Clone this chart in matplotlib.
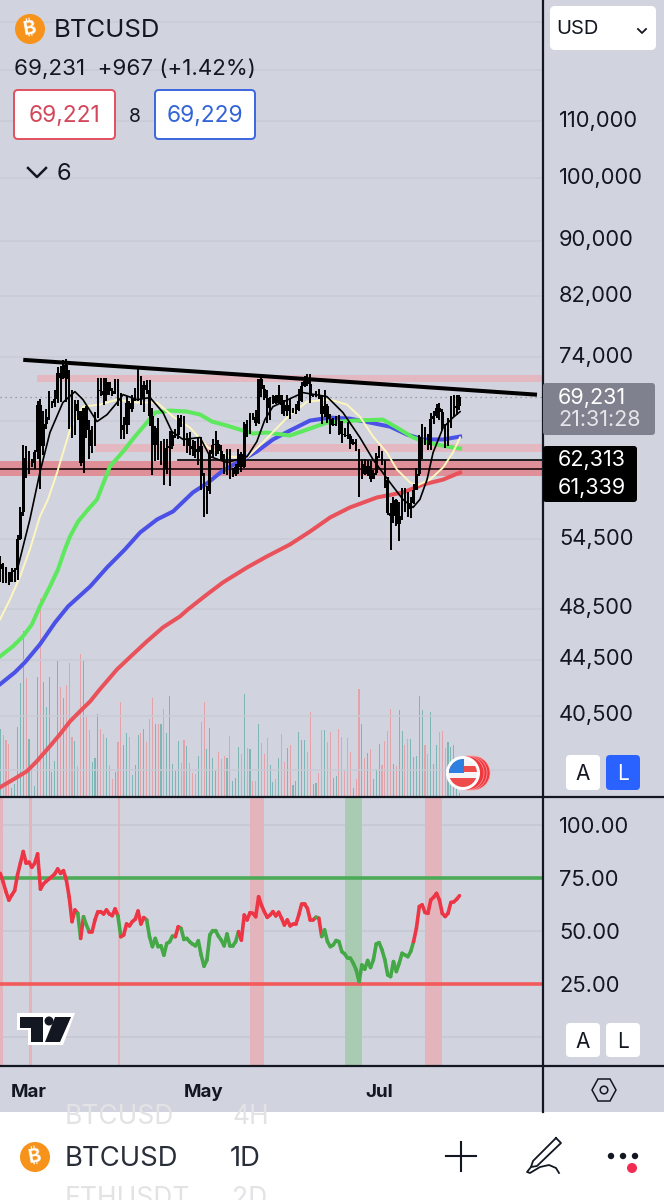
import numpy as np
import matplotlib
matplotlib.use("Agg")
import matplotlib.pyplot as plt
from matplotlib.patches import Rectangle, Circle, Polygon, FancyBboxPatch
from matplotlib.ticker import NullLocator
from matplotlib.transforms import ScaledTranslation

plt.rcParams['font.family'] = ['Inter', 'DejaVu Sans']

# daily bars, day 0 = 1 Mar, first bar is day -10
first_day = -10
close = [52300, 51850, 51300, 50750, 51570, 51730, 54500, 57050, 62500, 61200,
         62400, 62000, 63100, 68300, 63800, 66100, 66900, 68300, 68500, 69000, 72100, 71500, 73100, 71400, 69500, 65300, 68400, 67600, 62000, 67900, 65500, 63800, 64100, 67200, 70000, 69900, 69400, 71000, 69900, 69600, 71300,
         69700, 65500, 66000, 68500, 67800, 69000, 69400, 71600, 69100, 70600, 70000, 67100, 63900, 65700, 63400, 63800, 61300, 63500, 63800, 64900, 64900, 66800, 66400, 64300, 64500, 63800, 63400, 63100, 63800, 60600,
         58300, 59100, 62900, 63900, 64000, 63200, 62300, 61200, 63000, 60800, 60800, 61500, 62900, 61500, 66200, 65200, 67000, 66900, 66300, 71400, 70100, 69100, 67900, 68500, 69300, 68500, 69400, 68300, 67600, 68300, 67500,
         67700, 67700, 68800, 70500, 71100, 70800, 69300, 69300, 69600, 69500, 67300, 68200, 66700, 66000, 66200, 66600, 66500, 65100, 64900, 64800, 64000, 64200, 63200, 60300, 61800, 60800, 61600, 60300, 60900, 62700,
         62800, 62000, 60200, 57000, 56700, 58200, 55900, 56700, 58000, 57700, 57300, 57900, 59200, 60800, 64700, 65000, 64100, 63900, 66700, 67100, 68000, 67500, 65900, 65300, 65800, 67900, 68000, 68200, 69231]
high = [52950, 52400, 52000, 51550, 51950, 51950, 54900, 57500, 63900, 63700,
        63200, 62400, 63300, 68800, 69000, 67600, 67800, 69900, 68700, 70000, 72800, 72900, 73650, 73800, 72400, 70000, 68900, 68900, 67600, 68000, 68200, 66600, 65900, 67500, 71500, 71500, 71500, 71500, 70900, 70300, 71300,
        71400, 69600, 66900, 69300, 68700, 69500, 70300, 72700, 71700, 71100, 71200, 71200, 67900, 65900, 66800, 64300, 64500, 64500, 65400, 65400, 65600, 67200, 67200, 67000, 65200, 65300, 64400, 64300, 64700, 64700,
        60900, 59600, 63300, 64500, 65400, 64400, 63900, 62900, 63400, 63400, 61400, 61800, 63400, 63100, 66400, 66600, 67400, 67400, 67700, 71400, 71900, 70600, 70000, 69200, 69500, 69500, 70600, 69500, 68900, 69500, 69000,
        68000, 68400, 70100, 71000, 71700, 71900, 71900, 69500, 69900, 70200, 69500, 70000, 68400, 67300, 66800, 67000, 67200, 66500, 65700, 66400, 65100, 64500, 64500, 63400, 62400, 62400, 62300, 62200, 61200, 63000,
        63800, 63200, 62300, 60500, 57900, 58500, 58300, 58000, 59400, 59400, 59000, 58500, 59800, 61400, 64900, 66100, 65800, 65100, 67400, 67600, 68400, 68500, 67800, 66100, 66800, 69300, 69400, 69400, 69400]
low = [50700, 50600, 50600, 50500, 50900, 50700, 50900, 54450, 56700, 60400,
       60800, 61500, 61300, 62400, 59300, 62800, 65600, 66600, 68000, 68100, 68500, 68600, 71400, 68600, 65600, 64600, 64900, 66600, 61600, 60900, 64600, 62400, 63000, 63800, 66800, 69300, 68300, 68800, 69500, 69300, 69600,
       68200, 64500, 64500, 65100, 66000, 67500, 68800, 68800, 68300, 67500, 69600, 65900, 60700, 62200, 62300, 61700, 59700, 60800, 59600, 63400, 64600, 64500, 65800, 63800, 63000, 62800, 62700, 62500, 61700, 59200,
       56600, 56900, 58800, 62600, 62700, 62900, 62200, 60800, 60700, 60300, 60500, 60600, 60800, 61000, 61400, 64700, 65100, 66600, 65900, 66100, 69200, 68900, 66300, 66600, 68400, 68400, 68400, 67300, 67100, 67100, 66700,
       67400, 67300, 67600, 68600, 70400, 70500, 68500, 69200, 69200, 69000, 66100, 66900, 66300, 65100, 65900, 65900, 64900, 64100, 64700, 64500, 63400, 63900, 63200, 58500, 60300, 60700, 60600, 60000, 60500, 60700,
       62500, 61700, 59400, 56800, 53500, 56000, 55700, 54300, 56300, 57100, 56600, 56500, 57800, 59200, 60600, 62400, 63900, 63300, 63300, 66200, 66800, 66600, 65500, 63500, 63800, 65700, 66900, 67200, 67700]
volume = [67, 61, 56, 52, 8, 12, 69, 113, 165, 118,
          57, 28, 10, 119, 198, 114, 89, 119, 24, 35,
          135, 109, 98, 111, 133, 59, 55, 30, 142, 135,
          79, 66, 34, 38, 82, 67, 62, 58, 31, 17,
          24, 54, 94, 51, 63, 59, 21, 31, 61, 63,
          67, 54, 77, 98, 72, 72, 72, 87, 63, 100,
          32, 25, 55, 33, 56, 50, 33, 23, 22, 40,
          74, 94, 47, 68, 38, 25, 44, 37, 40, 38,
          60, 15, 18, 49, 42, 102, 48, 47, 15, 15,
          72, 53, 42, 58, 31, 14, 17, 38, 62, 34,
          48, 51, 11, 15, 64, 56, 56, 44, 84, 12,
          13, 23, 66, 66, 54, 64, 18, 20, 67, 59,
          25, 58, 44, 8, 17, 107, 72, 38, 43, 47,
          17, 27, 52, 31, 55, 65, 87, 32, 30, 86,
          65, 51, 57, 57, 39, 40, 100, 86, 51, 42,
          84, 32, 51, 64, 65, 48, 54, 49, 51, 8, 3]

# moving averages
red_days = [-10.1, -4.2, -0.7, 2.8, 7.3, 10.8, 14.3, 17.8, 21.3, 24.7, 30.7, 36.2, 41.1, 46.7, 52.6, 55.4, 62, 67.6, 76, 82.9, 90.9, 97.9, 104.9, 111.8, 121.3, 130.3, 137.3, 144.3, 150.2]
red_ma = [35920, 36530, 36910, 37540, 38490, 39270, 40130, 40820, 41500, 42350, 43800, 44910, 45910, 47000, 47870, 48440, 49670, 50690, 51980, 52950, 54020, 55210, 56530, 57490, 58470, 58960, 59750, 60250, 60970]
blue_days = [-10.1, -4.9, -1.4, 3.8, 9.1, 13.6, 21.3, 27.2, 33.4, 38.7, 44.6, 50.2, 57.1, 62.4, 67.2, 72.5, 79.4, 85, 90.9, 97.9, 104.9, 111.8, 118.8, 125.8, 131.7, 137.3, 144.3, 150.2]
blue_ma = [42710, 43580, 44320, 45670, 47390, 48680, 50340, 51980, 53570, 55120, 56340, 57110, 58960, 59950, 61080, 62000, 63160, 64450, 65420, 66530, 66870, 66750, 66310, 65860, 64990, 64450, 64450, 64770]
green_days = [-10.1, -5.6, -2.1, 1, 3.8, 7.3, 10.1, 12.5, 14.3, 17.1, 20.6, 23.7, 28.2, 32.8, 36.9, 41.1, 43.9, 49.1, 55, 59.6, 63.8, 69, 74.6, 78, 82.9, 90.9, 96.9, 103.8, 112.9, 123.3, 128.2, 133.8, 138.7, 145.6, 150.2]
green_ma = [44760, 45520, 46290, 47230, 48680, 50340, 51800, 53570, 54760, 56150, 57300, 58270, 61590, 63160, 64770, 66310, 67430, 67660, 67550, 67210, 66420, 65970, 65420, 65100, 65210, 64880, 65530, 66310, 66530, 66640, 65750, 64670, 64130, 63700, 63480]
yellow_days = [-10.1, -6.6, -3.1, 0.3, 3.8, 6.6, 9.8, 14.3, 18.8, 24.7, 30.7, 37.6, 44.6, 50.2, 56.1, 62.4, 70, 76, 81.5, 89.9, 96.9, 104.9, 110.8, 115.3, 119.9, 124.7, 128.2, 132.8, 135.2, 139.7, 144.3, 147.7, 150.2]
yellow_ma = [47630, 49260, 51200, 53570, 56620, 58270, 60970, 65530, 68110, 68350, 68920, 68580, 68580, 66970, 65750, 63580, 62620, 62510, 64130, 66860, 68690, 68920, 68340, 66970, 64770, 63050, 61280, 59950, 59660, 60250, 61490, 63050, 64670]
black_days = [-3.8, 0.3, 3.8, 7.3, 11.8, 16, 18.8, 23.7, 27.2, 30.7, 32.8, 37.6, 42.2, 46.7, 49.8, 53.7, 59.6, 63.1, 69, 76, 79.4, 82.2, 85, 95.5, 103.8, 109.4, 115.3, 119.9, 125.8, 130.3, 133.8, 136.2, 138.7, 140.8, 144.3, 147.7, 150.2]
black_ma = [52060, 56340, 60970, 65210, 68580, 69850, 68920, 66420, 67200, 68580, 69500, 68920, 69150, 67430, 65310, 64450, 64670, 62620, 62000, 62620, 64230, 66640, 68110, 69730, 69270, 67430, 64670, 62310, 59950, 58270, 57490, 58270, 60250, 63050, 65750, 66860, 67540]

rsi = [77, 73, 68.3, 64.4, 66.8, 68.9, 76.3, 81.8, 87.3, 81.8,
       82.3, 79.9, 81.8, 86.2, 69.6, 72, 73.3, 74.4, 75.5, 76.8,
       79.1, 77, 78.3, 74, 66, 54.3, 59.8, 58.2, 46.4, 56.6,
       52.7, 49.6, 49.6, 55.1, 59, 59, 57.9, 59.8, 57.9, 57.1,
       60.3, 57, 47.2, 48, 53.2, 52.3, 54.3, 55.4, 59.3, 53.2,
       56.2, 55.1, 47.2, 42.5, 46.4, 42.5, 42.9, 38.5, 44, 44.8,
       47.5, 47.2, 51.9, 51.1, 45.9, 46.4, 44.8, 43.7, 42.9, 45.3,
       38.5, 33.3, 36.2, 48, 50.1, 50.1, 47.5, 45.6, 42.9, 48.5,
       42.9, 42.9, 44.8, 49.6, 45.6, 57.4, 55.1, 58.5, 58.2, 56.6,
       66, 62, 59, 56.3, 57.4, 59, 57, 58.7, 55.9, 52.7,
       55.1, 52.3, 53.1, 53.1, 57.4, 62.6, 62.6, 60.6, 55.1, 55.1,
       56.4, 55.9, 47.3, 50.4, 44.9, 42.5, 43.3, 45.4, 44.9, 40.2,
       39.1, 37.1, 37.1, 34.7, 31.6, 26.1, 33.9, 31.9, 36, 32.7,
       36.3, 43.8, 44.4, 41, 36.3, 29.2, 28.4, 35.5, 30.8, 34.7,
       39.4, 38.6, 37.8, 40.2, 44.9, 51.2, 61.4, 62.2, 58.6, 58.2,
       64.5, 65.8, 67.6, 64.5, 58.2, 56.7, 58.2, 63.3, 63.6, 64.8, 66.5]
# bar index ranges where the rsi line is green, red elsewhere
rsi_green = [(27, 28), (29, 31), (41, 42), (51, 61), (63, 83), (110, 111), (112, 144)]

price_ticks = [110000, 100000, 90000, 82000, 74000, 54500, 48500, 44500, 40500]
hidden_grid = [130000, 120000, 66500, 37000]
rsi_ticks = [100, 75, 50, 25]
month_days = [0, 61, 122]
month_labels = ['Mar', 'May', 'Jul']
trend_days = [-2, 177]
trend_price = [73680, 69490]
last_price = 69231
line_a = 62313
line_b = 61339
zone_top = (71030, 71870)
zone_mid = (63150, 63910)
zone_red = (60650, 62210)
red_shades = [(-10.1, -9), (0, 1), (31, 31.7), (77, 81.9), (138, 143.9)]
green_shades = [(110.1, 116)]

BG = '#D1D4DE'
W, H = 664, 1200


def px_axes(x0, y0, x1, y1, **kw):
    return fig.add_axes([x0 / W, 1 - y1 / H, (x1 - x0) / W, (y1 - y0) / H], **kw)


fig = plt.figure(figsize=(W / 100, H / 100), dpi=100, facecolor=BG)

days = first_day + np.arange(len(close))
close = np.array(close, dtype=float)
opens = np.r_[51800, close[:-1]]
high = np.array(high, dtype=float)
low = np.array(low, dtype=float)
xlim = (-10.1, 179.1)

# volume sits under the price panel
vol_ax = px_axes(0, 0, 543, 796, zorder=1)
vol_ax.set_facecolor(BG)
vol_cols = ['#7DB6B4' if c >= o else '#E3A3A8' for c, o in zip(close, opens)]
vol_ax.bar(days, volume, width=0.38, color=vol_cols)
vol_ax.set_xlim(xlim)
vol_ax.set_ylim(0, 796)
vol_ax.axis('off')
vol_ax.patch.set_visible(True)

ax = px_axes(0, 0, 543, 796, zorder=2)
ax.patch.set_alpha(0)
ax.set_yscale('log')
ax.set_xlim(xlim)
ax.set_ylim(35400, 134900)
for s in ax.spines.values():
    s.set_visible(False)

for lev in price_ticks + hidden_grid:
    ax.axhline(lev, color='#C8CBD5', lw=1.1, zorder=0)

ax.axhspan(*zone_red, color='#DF8F98', lw=0, zorder=1)
ax.axhspan(*zone_top, xmin=(2.8 - xlim[0]) / (xlim[1] - xlim[0]), color='#E3B8C0', lw=0, zorder=1)
ax.axhspan(*zone_mid, xmin=(23 - xlim[0]) / (xlim[1] - xlim[0]), color='#E3B8C0', lw=0, zorder=1)
ax.axhline(last_price, color='#8A8D96', lw=0.9, ls=(0, (1, 3)), zorder=1)
ax.axhline(line_b, color='#20090C', lw=1.2, zorder=2)
ax.axhline(line_a, xmin=(52 - xlim[0]) / (xlim[1] - xlim[0]), color='black', lw=1.2, zorder=2)

ax.plot(red_days, red_ma, color='#E9525A', lw=2.9, zorder=3, solid_joinstyle='round')
ax.plot(blue_days, blue_ma, color='#4B50E6', lw=2.9, zorder=3, solid_joinstyle='round')
ax.plot(green_days, green_ma, color='#5DE85E', lw=2.9, zorder=3, solid_joinstyle='round')
ax.plot(yellow_days, yellow_ma, color='#FFF6BE', lw=1.4, zorder=3)

# candles, all black on this chart
ax.vlines(days, low, high, color='black', lw=1.4, zorder=4)
ax.bar(days, np.abs(close - opens), bottom=np.minimum(close, opens), width=0.92, color='black', zorder=4)

ax.plot(black_days, black_ma, color='black', lw=1.2, zorder=5)
ax.plot(trend_days, trend_price, color='black', lw=2.9, zorder=6, solid_capstyle='butt')

ax.yaxis.tick_right()
ax.set_yticks(price_ticks)
ax.set_yticklabels([f'{p:,}' for p in price_ticks], fontsize=15.8, color='#131722')
ax.yaxis.set_minor_locator(NullLocator())
ax.tick_params(axis='y', length=0, pad=11.5)
ax.set_xticks([])
shift = ScaledTranslation(0, 2.5 / 100, fig.dpi_scale_trans)
for lbl in ax.get_yticklabels():
    lbl.set_transform(lbl.get_transform() + shift)

# rsi panel
rax = px_axes(0, 798, 543, 1065, zorder=2)
rax.set_facecolor(BG)
rax.set_xlim(xlim)
rax.set_ylim(-13.2, 112.5)
for s in rax.spines.values():
    s.set_visible(False)
for lev in [100, 50, 0]:
    rax.axhline(lev, color='#C4C7D1', lw=1.1, zorder=0)
for a, b in red_shades:
    rax.axvspan(a, b, color='#E3B4BB', lw=0, zorder=1)
for a, b in green_shades:
    rax.axvspan(a, b, color='#A9CBB2', lw=0, zorder=1)
rax.axhline(75, color='#4CAB57', lw=2.6, zorder=2)
rax.axhline(25, color='#F25A5C', lw=2.6, zorder=2)

for i in range(len(rsi) - 1):
    is_green = any(a <= i < b for a, b in rsi_green)
    rax.plot(days[i:i + 2], rsi[i:i + 2], color='#43A845' if is_green else '#EE3545',
             lw=2.6, zorder=3, solid_capstyle='round')

rax.yaxis.tick_right()
rax.set_yticks(rsi_ticks)
rax.set_yticklabels([f'{v:.2f}' for v in rsi_ticks], fontsize=15.8, color='#131722')
rax.tick_params(axis='y', length=0, pad=11.5)
rax.set_xticks(month_days)
rax.set_xticklabels(month_labels, fontsize=13.5, fontweight='bold', color='#131722')
rax.tick_params(axis='x', length=0, pad=13.5)

# everything that belongs to the app around the chart
ui = fig.add_axes([0, 0, 1, 1], zorder=10)
ui.set_xlim(0, W)
ui.set_ylim(H, 0)
ui.axis('off')


def box(x0, y0, x1, y1, face, edge='none', lw=1.4, r=4, z=5):
    ui.add_patch(FancyBboxPatch((x0 + r, y0 + r), x1 - x0 - 2 * r, y1 - y0 - 2 * r,
                                boxstyle=f'round,pad={r},rounding_size={r}',
                                fc=face, ec=edge, lw=lw, zorder=z, mutation_aspect=1))


def txt(x, y, s, size, color='#131722', ha='left', weight='normal', z=7):
    return ui.text(x, y + 1.5, s, fontsize=size, color=color, ha=ha, va='center', fontweight=weight, zorder=z)


def coin(x, y, r, size):
    ui.add_patch(Circle((x, y), r, fc='#F7931A', ec='none', zorder=6))
    t = txt(x, y - 1.5, '\u20bf', size, color='white', ha='center', weight='bold')
    t.set_rotation(10)


# header
coin(30, 29, 15, 14)
txt(54, 29, 'BTCUSD', 18.5)
txt(14, 67, '69,231  +967 (+1.42%)', 16.1)
box(14, 90, 115, 139, 'white', '#E0505F')
txt(64.5, 115, '69,221', 16.3, color='#D2475A', ha='center')
txt(135, 115, '8', 14, ha='center')
box(155, 90, 255, 139, 'white', '#3B66E0')
txt(205, 115, '69,229', 16.3, color='#3263D8', ha='center')
ui.plot([28, 37, 46], [168, 177, 168], color='#131722', lw=1.8, zorder=7)
txt(57, 173, '6', 17)

# currency selector
box(550, 6, 656, 50, 'white', r=5)
txt(556, 28, 'USD', 14.5)
ui.plot([638, 642, 646], [29, 33, 29], color='#131722', lw=1.3, zorder=7)

# price tags on the axis
box(543, 383, 655, 435, '#7F828E', r=3)
txt(558, 396, '69,231', 15.5, color='white')
txt(558, 419, '21:31:28', 15.5, color='#E6E6EA')
box(543, 446, 637, 502, 'black', r=3)
txt(558, 458, '62,313', 15.5, color='white')
txt(558, 487, '61,339', 15.5, color='white')

# auto / log buttons
box(566, 755, 600, 790, 'white', r=4)
txt(583, 772, 'A', 15, ha='center')
box(606, 755, 640, 790, '#2962FF', r=4)
txt(623, 772, 'L', 15, color='white', ha='center')
box(566, 1023, 600, 1057, 'white', r=4)
txt(583, 1040, 'A', 15, ha='center')
box(606, 1023, 640, 1057, 'white', r=4)
txt(623, 1040, 'L', 15, ha='center')

# economic events flag
for cx in [473, 470, 467]:
    ui.add_patch(Circle((cx, 773), 17, fc='#F0393F', ec='#F7A0A4', lw=0.5, zorder=5))
ui.add_patch(Circle((463, 773), 17, fc='white', ec='none', zorder=6))
clip = Circle((463, 773), 14, transform=ui.transData)
flag = [Rectangle((449, 759), 28, 28, fc='#F4F4F6', ec='none', zorder=7),
        Rectangle((449, 766), 28, 6, fc='#EE4B4B', ec='none', zorder=7),
        Rectangle((449, 778), 28, 9, fc='#EE4B4B', ec='none', zorder=7),
        Rectangle((449, 759), 15, 14, fc='#2F7FE0', ec='none', zorder=8)]
for p in flag:
    ui.add_patch(p)
    p.set_clip_path(clip)

# tradingview logo
ui.add_patch(Polygon([(17, 1013), (75, 1013), (63, 1045), (28, 1045), (28, 1030), (17, 1030)], fc='white', ec='none', zorder=5))
ui.add_patch(Polygon([(20, 1017), (43, 1017), (43, 1042), (31, 1042), (31, 1028), (20, 1028)], fc='#131722', ec='none', zorder=6))
ui.add_patch(Circle((49, 1021), 4.5, fc='#131722', ec='none', zorder=6))
ui.add_patch(Polygon([(55, 1017), (71, 1017), (60, 1042), (45, 1042)], fc='#131722', ec='none', zorder=6))

# settings hexagon
ui.add_patch(Polygon([(592, 1090), (598, 1079), (610, 1079), (616, 1090), (610, 1101), (598, 1101)], fc='none', ec='#131722', lw=1.1, zorder=6))
ui.add_patch(Circle((604, 1090), 3.8, fc='none', ec='#131722', lw=1.1, zorder=6))

# separators
ui.plot([543, 543], [0, 1112], color='#131722', lw=1.6, zorder=4)
ui.plot([0, W], [797, 797], color='#131722', lw=1.6, zorder=4)
ui.plot([0, W], [1066, 1066], color='#131722', lw=1.6, zorder=4)

# bottom toolbar, the neighbouring list rows are cut off by it
white = Rectangle((0, 1112), W, 88, fc='white', ec='none', zorder=1)
ui.add_patch(white)
for x, y, s in [(65, 1115, 'BTCUSD'), (232, 1115, '4H'), (65, 1198, 'ETHUSDT'), (232, 1198, '2D')]:
    t = txt(x, y, s, 19, color='#E3E3E6', z=2)
    t.set_clip_path(white)
coin(35, 1157, 15, 14)
txt(65, 1157, 'BTCUSD', 19.8, color='#2A2E39')
txt(230, 1157, '1D', 19.8, color='#2A2E39')
ui.plot([461, 461], [1142, 1171], color='#131722', lw=1.5, zorder=7)
ui.plot([446, 476], [1156, 1156], color='#131722', lw=1.5, zorder=7)
# pen
ui.plot([556, 561, 537, 531, 533, 556], [1138, 1143, 1166, 1167, 1161, 1138], color='#131722', lw=1.3, zorder=7)
ui.plot([531, 527, 530, 540, 549, 556, 559], [1167, 1172, 1173, 1167, 1165, 1168, 1173], color='#131722', lw=1.3, zorder=7)
for x in [611, 623, 635]:
    ui.add_patch(Circle((x, 1156), 3.2, fc='#131722', ec='none', zorder=7))
ui.add_patch(Circle((632, 1168), 5, fc='#F22B52', ec='none', zorder=7))

fig.savefig('out.png', dpi=100, facecolor=BG)
